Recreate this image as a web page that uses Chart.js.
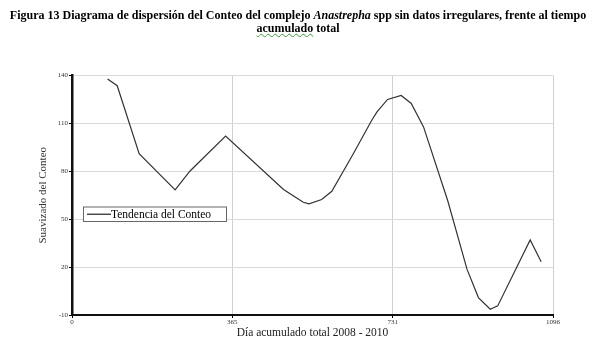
<!DOCTYPE html>
<html>
<head>
<meta charset="utf-8">
<script src="https://cdn.jsdelivr.net/npm/chart.js@4.4.1/dist/chart.umd.min.js"></script>
<style>
  html, body { margin: 0; padding: 0; background: #fff; }
  #wrap { position: relative; width: 596px; height: 351px; }
  #title {
    position: absolute; left: 0; top: 9px; width: 596px;
    text-align: center; color: #000;
    font: bold 12px "Liberation Serif", "Times New Roman", serif;
    line-height: 12.5px;
  }
  .sp { text-decoration: underline wavy #3c9a3c; text-decoration-thickness: 1px; }
  canvas { position: absolute; left: 0; top: 0; }
</style>
</head>
<body>
<div id="wrap">
  <canvas id="c" width="596" height="351"></canvas>
  <div id="title">Figura 13 Diagrama de dispersión del Conteo del complejo <i>Anastrepha</i> spp sin datos irregulares, frente al tiempo<br><span class="sp">acumulado</span> total</div>
</div>
<script>
// Día acumulado (x) y conteo suavizado (y)
const dias = [81, 103, 153, 235, 269, 350, 482, 527, 540, 569, 592, 641, 683, 695, 719, 750, 773, 801, 856, 900, 926, 953, 970, 1044, 1069];
const conteo = [137.8, 133.6, 91.1, 68.4, 80.2, 102.1, 68.6, 60.6, 59.6, 62.3, 67.5, 91, 112, 117.2, 125, 127.5, 122.5, 107.8, 61.7, 18.7, 0.9, -6.4, -4.3, 37, 23.3];
const xTicks = [0, 365, 731, 1096];
const yTicks = [-10, 20, 50, 80, 110, 140];
const serieLabel = 'Tendencia del Conteo';

const serif = 'Liberation Serif, Times New Roman, serif';

// legend box drawn inside the plot, like the original
const boxLegend = {
  id: 'boxLegend',
  afterDatasetsDraw(chart) {
    const { ctx, chartArea } = chart;
    const ds = chart.data.datasets[0];
    const left = chartArea.left + 11;
    const top = chartArea.top + 131;
    const w = 143, h = 14.5;
    ctx.save();
    ctx.fillStyle = '#fff';
    ctx.fillRect(left, top, w, h);
    ctx.strokeStyle = '#666';
    ctx.lineWidth = 1;
    ctx.strokeRect(left + 0.5, top + 0.5, w, h);
    const mid = top + h / 2 + 0.5;
    ctx.strokeStyle = ds.borderColor;
    ctx.lineWidth = 1.3;
    ctx.beginPath();
    ctx.moveTo(left + 4, mid);
    ctx.lineTo(left + 28, mid);
    ctx.stroke();
    ctx.fillStyle = '#000';
    ctx.font = '11.5px ' + serif;
    ctx.textBaseline = 'middle';
    ctx.fillText(ds.label, left + 28, mid + 0.5);
    ctx.restore();
  }
};

new Chart(document.getElementById('c'), {
  type: 'line',
  data: {
    datasets: [{
      label: serieLabel,
      data: dias.map((d, i) => ({ x: d, y: conteo[i] })),
      borderColor: '#333333',
      borderWidth: 1.2,
      pointRadius: 0,
      tension: 0,
      fill: false
    }]
  },
  options: {
    responsive: false,
    animation: false,
    layout: { padding: { top: 75.5, right: 43, bottom: 0, left: 0 } },
    plugins: {
      legend: { display: false },
      tooltip: { enabled: false }
    },
    scales: {
      x: {
        type: 'linear',
        min: 0,
        max: 1096,
        afterBuildTicks(s) { s.ticks = xTicks.map(v => ({ value: v })); },
        afterFit(s) { s.height = 36; },
        ticks: {
          autoSkip: false, maxRotation: 0, padding: 0,
          color: '#333', font: { family: serif, size: 7 },
          callback: v => String(v)
        },
        grid: { color: '#d0d0d0', tickLength: 3, tickColor: '#000' },
        border: { color: '#111', width: 2 },
        title: {
          display: true, text: 'Día acumulado total 2008 - 2010',
          color: '#222', font: { family: serif, size: 11.5 },
          padding: { top: 0, bottom: 11 }
        }
      },
      y: {
        min: -10,
        max: 140,
        afterBuildTicks(s) { s.ticks = yTicks.map(v => ({ value: v })); },
        afterFit(s) { s.width = 72; },
        ticks: {
          padding: 1, color: '#333', font: { family: serif, size: 7 },
          callback: v => String(v)
        },
        grid: { color: '#dadada', tickLength: 3, tickColor: '#000' },
        border: { color: '#111', width: 2.5 },
        title: {
          display: true, text: 'Suavizado del Conteo',
          color: '#333', font: { family: serif, size: 11 },
          padding: { top: 37, bottom: 0 }
        }
      }
    }
  },
  plugins: [boxLegend]
});
</script>
</body>
</html>
